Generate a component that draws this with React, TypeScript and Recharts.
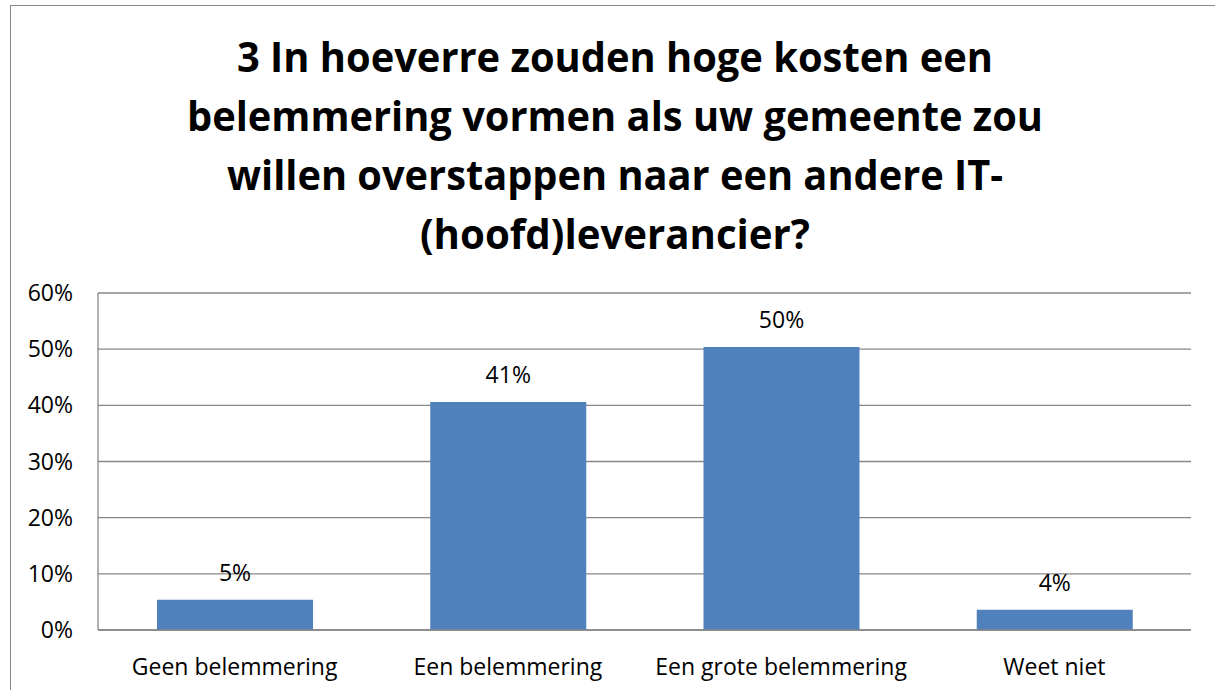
import React from 'react';
import { BarChart, Bar, XAxis, YAxis, CartesianGrid, LabelList } from 'recharts';

const categories = ['Geen belemmering', 'Een belemmering', 'Een grote belemmering', 'Weet niet'];
const shares = [5.4, 40.6, 50.4, 3.6];
const yTicks = [0, 10, 20, 30, 40, 50, 60];
const titleLines = [
    '3 In hoeverre zouden hoge kosten een',
    'belemmering vormen als uw gemeente zou',
    'willen overstappen naar een andere IT-',
    '(hoofd)leverancier?',
];
// measured widths of the title lines in the reference
const titleWidths = [756, 856, 776, 390];

const data = categories.map((name, i) => ({ name, value: shares[i] }));

const FONT = '"Open Sans", "DejaVu Sans", sans-serif';

export default function App() {
    return (
        <div style={{ position: 'absolute', left: 0, top: 0, width: 1215, height: 690, overflow: 'hidden', background: '#fff', fontFamily: FONT }}>
            {/* outer chart frame */}
            <div style={{ position: 'absolute', left: 10, top: 5, width: 1230, height: 720, border: '1.5px solid #8a8a8a' }} />

            <svg width={1215} height={280} style={{ position: 'absolute', left: 0, top: 0 }}>
                {titleLines.map((line, i) => (
                    <text
                        key={i}
                        x={615}
                        y={72 + i * 59}
                        textAnchor="middle"
                        fontFamily={FONT}
                        fontWeight={700}
                        fontSize={41}
                        fill="#000"
                        textLength={titleWidths[i]}
                        lengthAdjust="spacingAndGlyphs"
                    >
                        {line}
                    </text>
                ))}
            </svg>

            <div style={{ position: 'absolute', left: 0, top: 0 }}>
                <BarChart
                    width={1215}
                    height={690}
                    data={data}
                    margin={{ top: 293, right: 24, left: 38, bottom: 0 }}
                >
                    <CartesianGrid vertical={false} stroke="#878787" strokeWidth={1.3} />
                    <XAxis
                        dataKey="name"
                        height={60}
                        axisLine={{ stroke: '#878787', strokeWidth: 1.3 }}
                        tickLine={false}
                        tickMargin={23}
                        tick={{ fill: '#000', fontSize: 23, fontFamily: FONT }}
                        interval={0}
                    />
                    <YAxis
                        width={60}
                        domain={[0, 60]}
                        ticks={yTicks}
                        tickFormatter={(v: number) => `${v}%`}
                        axisLine={{ stroke: '#878787', strokeWidth: 1.3 }}
                        tickLine={false}
                        tickMargin={19}
                        tick={{ fill: '#000', fontSize: 23, fontFamily: FONT }}
                    />
                    <Bar dataKey="value" fill="#4f81bd" barSize={156} isAnimationActive={false}>
                        <LabelList
                            dataKey="value"
                            position="top"
                            offset={19}
                            formatter={(v: number) => `${Math.round(v)}%`}
                            style={{ fill: '#000', fontSize: 23, fontFamily: FONT }}
                        />
                    </Bar>
                </BarChart>
            </div>
        </div>
    );
}
